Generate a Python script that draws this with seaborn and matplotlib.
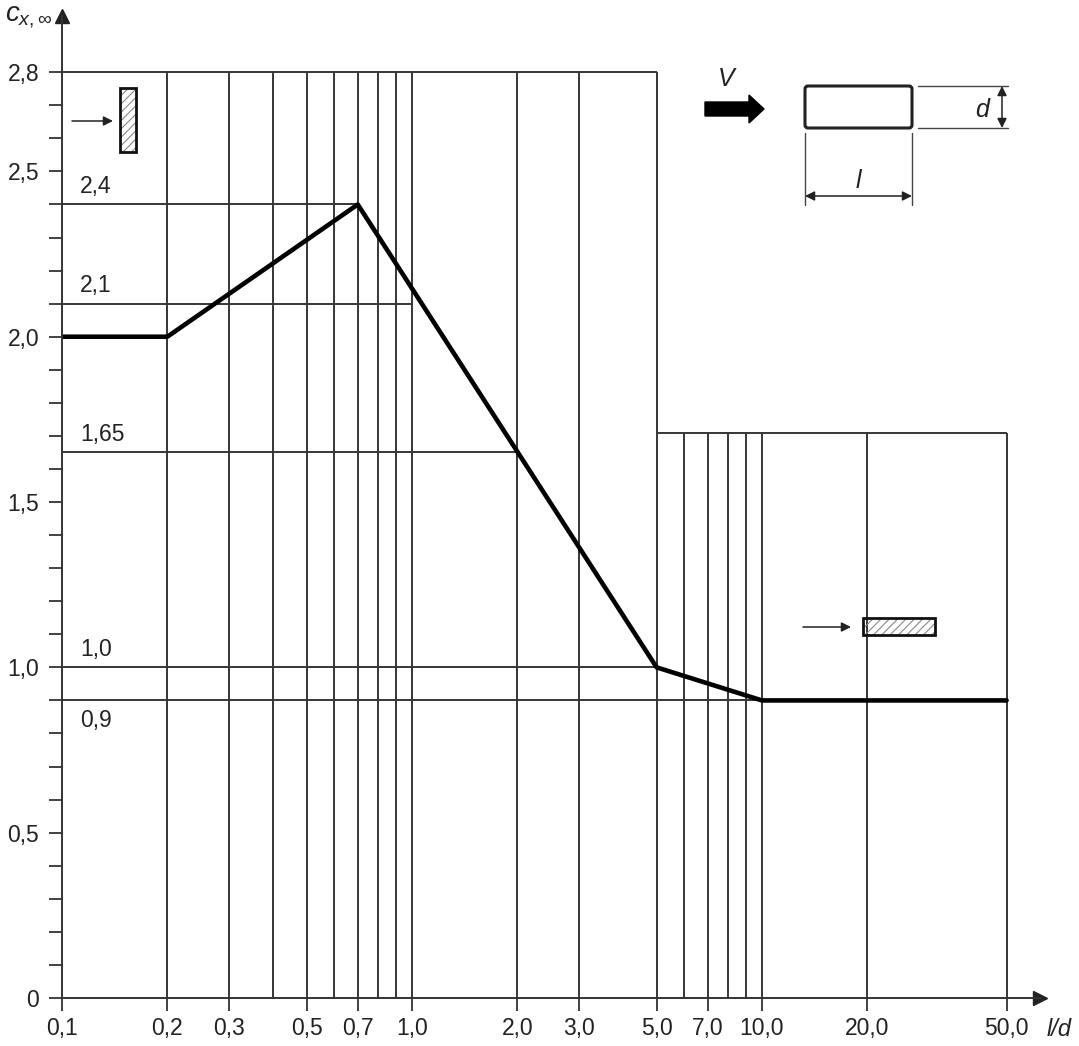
import numpy as np
import matplotlib
matplotlib.use("Agg")
import matplotlib.pyplot as plt
import matplotlib.patches as mpatches
import matplotlib.transforms as mtransforms
from matplotlib.ticker import FixedLocator, NullLocator
import seaborn as sns

# force coefficient curve c_x,inf against l/d
ratio = [0.1, 0.2, 0.7, 5.0, 10.0, 50.0]
cx = [2.0, 2.0, 2.4, 1.0, 0.9, 0.9]

x_ticks = [0.1, 0.2, 0.3, 0.5, 0.7, 1.0, 2.0, 3.0, 5.0, 7.0, 10.0, 20.0, 50.0]
x_labels = ["0,1", "0,2", "0,3", "0,5", "0,7", "1,0", "2,0", "3,0", "5,0",
            "7,0", "10,0", "20,0", "50,0"]
y_ticks = [0, 0.5, 1.0, 1.5, 2.0, 2.5, 2.8]
y_labels = ["0", "0,5", "1,0", "1,5", "2,0", "2,5", "2,8"]

# chart grid: tall part on the left, low part on the right
grid_tall = [0.2, 0.3, 0.4, 0.5, 0.6, 0.7, 0.8, 0.9, 1.0, 2.0, 3.0, 5.0]
grid_low = [6.0, 7.0, 8.0, 9.0, 10.0, 20.0, 50.0]
top_tall = 2.8
top_low = 1.71

# reference levels and where each one stops
ref_levels = [2.4, 2.1, 1.65, 1.0, 0.9]
ref_ends = [0.7, 1.0, 2.0, 5.0, 50.0]
ref_labels = ["2,4", "2,1", "1,65", "1,0", "0,9"]

W, H = 1079, 1046
sns.set_style("ticks")
plt.rcParams["font.family"] = ["Liberation Sans", "DejaVu Sans"]
plt.rcParams["mathtext.fontset"] = "custom"
plt.rcParams["mathtext.it"] = "Liberation Sans:italic"
plt.rcParams["mathtext.rm"] = "Liberation Sans"
plt.rcParams["hatch.linewidth"] = 0.8

fig = plt.figure(figsize=(W / 100, H / 100), dpi=100)
ax = fig.add_axes([62 / W, 48 / H, (1040 - 62) / W, (998 - 16) / H])
ax.set_xscale("log")
ax.set_xlim(0.1, 62.3)
ax.set_ylim(0, 2.97)

gc = "#363636"
glw = 1.4
ax.vlines(grid_tall, 0, top_tall, color=gc, lw=glw)
ax.vlines(grid_low, 0, top_low, color=gc, lw=glw)
ax.hlines(top_tall, ratio[0], grid_tall[-1], color=gc, lw=glw)
ax.hlines(top_low, grid_tall[-1], grid_low[-1], color=gc, lw=glw)
ax.hlines(ref_levels, ratio[0], ref_ends, color=gc, lw=glw)

for lev, lab in zip(ref_levels, ref_labels):
    if lab == "0,9":
        ax.text(0.1125, lev - 0.025, lab, fontsize=16.5, va="top", ha="left", color="#222")
    else:
        ax.text(0.1125, lev + 0.02, lab, fontsize=16.5, va="bottom", ha="left", color="#222")

sns.lineplot(x=ratio, y=cx, color="black", linewidth=3.3, ax=ax)

# axes with arrow heads
for s in ["top", "right"]:
    ax.spines[s].set_visible(False)
for s in ["left", "bottom"]:
    ax.spines[s].set_color("#333")
    ax.spines[s].set_linewidth(1.4)
ax.plot(1, 0, ">", transform=ax.transAxes, clip_on=False, color="#222", ms=10)
ax.plot(0, 1, "^", transform=ax.transAxes, clip_on=False, color="#222", ms=10)

ax.xaxis.set_major_locator(FixedLocator(x_ticks))
ax.xaxis.set_minor_locator(NullLocator())
ax.set_xticklabels(x_labels)
ax.yaxis.set_major_locator(FixedLocator(y_ticks))
minor_y = [v for v in np.round(np.arange(0.1, 2.8, 0.1), 1) if v not in y_ticks]
ax.yaxis.set_minor_locator(FixedLocator(minor_y))
ax.set_yticklabels(y_labels)
ax.tick_params(axis="both", which="both", direction="out", length=9.5,
               width=1.3, color="#333", labelsize=16.5, labelcolor="#222")
ax.tick_params(axis="x", pad=4)
ax.tick_params(axis="y", pad=7)

# pixel coordinates (from top-left) for the sketches
px = mtransforms.Affine2D().scale(1 / W, -1 / H).translate(0, 1) + fig.transFigure

fig.text(5, 17, r"$c_{x,\infty}$", fontsize=20, transform=px, va="center", ha="left", color="#222")
fig.text(1047, 1029, "l/d", fontsize=17, style="italic", transform=px, va="center", ha="left", color="#222")


def hatched_box(x0, y0, x1, y1):
    fig.add_artist(mpatches.Rectangle((x0, y0), x1 - x0, y1 - y0, transform=px,
                                      facecolor="none", edgecolor="#888", hatch="////", lw=0))
    fig.add_artist(mpatches.Rectangle((x0, y0), x1 - x0, y1 - y0, transform=px,
                                      facecolor="none", edgecolor="#111", lw=2))


def thin_arrow(x0, y0, x1, y1, style="-|>"):
    fig.add_artist(mpatches.FancyArrowPatch((x0, y0), (x1, y1), transform=px,
                                            arrowstyle=style, mutation_scale=14,
                                            color="#222", lw=1.1, shrinkA=0, shrinkB=0))


hatched_box(120, 88, 136, 152)
thin_arrow(72, 121, 113, 121)
hatched_box(863, 618, 935, 635)
thin_arrow(803, 627, 851, 627)

# wind direction and section sketch
fig.add_artist(mpatches.FancyArrow(705, 109, 59, 0, width=14, head_width=28,
                                   head_length=15, length_includes_head=True,
                                   transform=px, color="black"))
fig.text(726, 79, "V", fontsize=18, style="italic", transform=px, ha="center", va="center", color="#222")
fig.add_artist(mpatches.FancyBboxPatch((805, 86), 107, 42, boxstyle="round,pad=0,rounding_size=3",
                                       transform=px, facecolor="none", edgecolor="#222", lw=2.2))
for yy in [86, 128]:
    fig.add_artist(plt.Line2D([918, 1008], [yy, yy], transform=px, color="#444", lw=1))
thin_arrow(1002, 86, 1002, 128, style="<|-|>")
fig.text(982, 110, "d", fontsize=18, style="italic", transform=px, ha="center", va="center", color="#222")
for xx in [805, 912]:
    fig.add_artist(plt.Line2D([xx, xx], [133, 205], transform=px, color="#444", lw=1))
thin_arrow(805, 196, 912, 196, style="<|-|>")
fig.text(858, 181, "l", fontsize=18, style="italic", transform=px, ha="center", va="center", color="#222")

plt.savefig("out.png", dpi=100)
plt.close()
